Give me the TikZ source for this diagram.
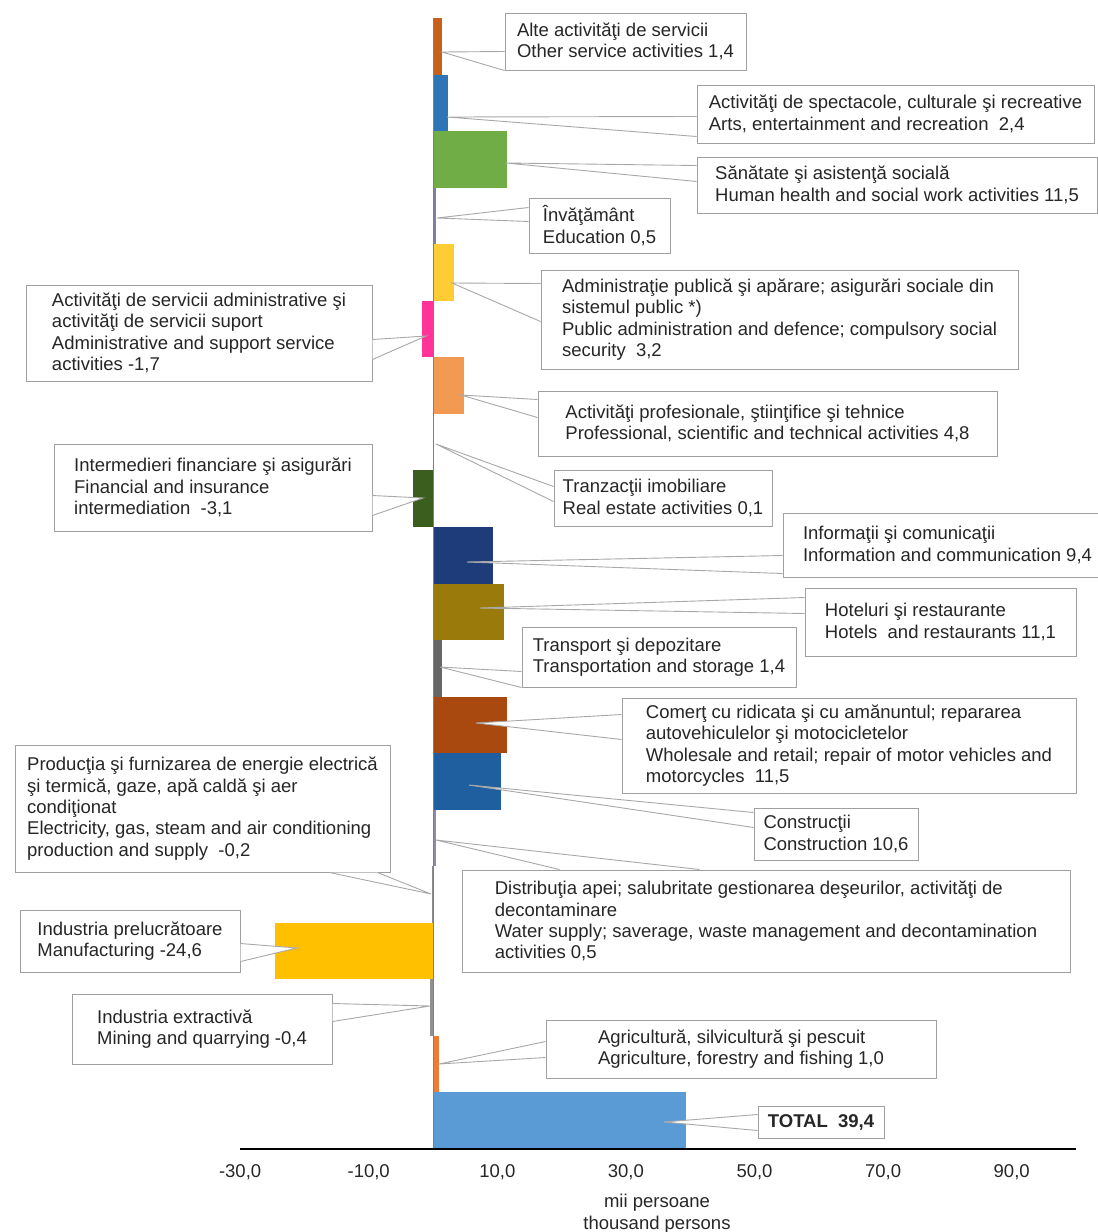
\documentclass[tikz,border=0pt]{standalone}
\usepackage{fontspec}
\setmainfont{Liberation Sans}

\definecolor{boxgray}{HTML}{A0A0A0}
\definecolor{linegray}{HTML}{A8A8A8}
\definecolor{txtgray}{HTML}{262626}
\definecolor{axisgray}{HTML}{808080}
\definecolor{cOther}{HTML}{C8601A}
\definecolor{cArts}{HTML}{2E75B6}
\definecolor{cHealth}{HTML}{70AD47}
\definecolor{cEdu}{HTML}{7F7F9F}
\definecolor{cPubAdm}{HTML}{FFCC33}
\definecolor{cAdmSup}{HTML}{FF3399}
\definecolor{cProf}{HTML}{F39A52}
\definecolor{cReal}{HTML}{909090}
\definecolor{cFin}{HTML}{3B5E1F}
\definecolor{cInfo}{HTML}{1F3C7A}
\definecolor{cHotel}{HTML}{9A7A0A}
\definecolor{cTransp}{HTML}{666666}
\definecolor{cComert}{HTML}{A9480F}
\definecolor{cConstr}{HTML}{1F5FA0}
\definecolor{cWater}{HTML}{8C8CA8}
\definecolor{cEnergy}{HTML}{8C8C8C}
\definecolor{cManuf}{HTML}{FFC000}
\definecolor{cMining}{HTML}{909090}
\definecolor{cAgri}{HTML}{ED7D31}
\definecolor{cTotal}{HTML}{5B9BD5}

\begin{document}
\begin{tikzpicture}[x=1pt, y=-1pt,
	lbl/.style={draw=boxgray, line width=1pt, fill=white, align=left, inner sep=0pt,
		text=txtgray, font=\fontsize{18.5}{21.3}\selectfont},
	wedge/.style={draw=linegray, line width=0.9pt, fill=white},
	tick/.style={text=txtgray, font=\fontsize{18.5}{22}\selectfont}]
	
	\useasboundingbox (0,0) rectangle (1098,1232);
	
	% Balken (Werte in mii persoane)
	\begin{scope}[shift={(433,18)}, x=6.43pt, y=-56.55pt]
		\fill[cOther]  (0,0)  rectangle (1.4,1);
		\fill[cArts]   (0,1)  rectangle (2.4,2);
		\fill[cHealth] (0,2)  rectangle (11.5,3);
		\fill[cEdu]    (0,3)  rectangle (0.5,4);
		\fill[cPubAdm] (0,4)  rectangle (3.2,5);
		\fill[cAdmSup] (0,5)  rectangle (-1.7,6);
		\fill[cProf]   (0,6)  rectangle (4.8,7);
		\fill[cReal]   (0,7)  rectangle (0.1,8);
		\fill[cFin]    (0,8)  rectangle (-3.1,9);
		\fill[cInfo]   (0,9)  rectangle (9.4,10);
		\fill[cHotel]  (0,10) rectangle (11.1,11);
		\fill[cTransp] (0,11) rectangle (1.4,12);
		\fill[cComert] (0,12) rectangle (11.5,13);
		\fill[cConstr] (0,13) rectangle (10.6,14);
		\fill[cWater]  (0,14) rectangle (0.5,15);
		\fill[cEnergy] (0,15) rectangle (-0.2,16);
		\fill[cManuf]  (0,16) rectangle (-24.6,17);
		\fill[cMining] (0,17) rectangle (-0.4,18);
		\fill[cAgri]   (0,18) rectangle (1.0,19);
		\fill[cTotal]  (0,19) rectangle (39.4,20);
	\end{scope}
	
	% Achsen
	\draw[axisgray, line width=0.8pt] (433,18) -- (433,1149);
	\draw[line width=2.4pt] (240,1149) -- (1076,1149);
	\foreach \v in {-30,-10,...,90}
		\node[tick] (tick\v) at ({433+6.43*\v},1172) {\v,0};
	\node[tick, align=center] (unit) at (657,1214) {mii persoane\\thousand persons};
	
	% Spitzen der Beschriftungen
	\coordinate (a-alte)   at (442,52);
	\coordinate (a-arts)   at (447,117);
	\coordinate (a-health) at (506,163);
	\coordinate (a-edu)    at (437,218);
	\coordinate (a-pubadm) at (452,283);
	\coordinate (a-admsup) at (426,336);
	\coordinate (a-prof)   at (461,395);
	\coordinate (a-real)   at (436,444);
	\coordinate (a-fin)    at (423,498);
	\coordinate (a-info)   at (467,562);
	\coordinate (a-hotel)  at (480,608);
	\coordinate (a-transp) at (440,667);
	\coordinate (a-comert) at (476,723);
	\coordinate (a-constr) at (469,785);
	\coordinate (a-water)  at (436,840);
	\coordinate (a-energy) at (431,894);
	\coordinate (a-manuf)  at (297,948);
	\coordinate (a-mining) at (430,1006);
	\coordinate (a-agri)   at (439,1064);
	\coordinate (a-total)  at (664,1122);
	
	% Beschriftungen
	\node[lbl, minimum width=241pt, minimum height=57pt] (alte) at (625.5,41.5)
		{Alte activităţi de servicii\\Other service activities 1,4};
	\node[lbl, minimum width=397pt, minimum height=58pt] (arts) at (895.5,114)
		{Activităţi de spectacole, culturale şi recreative\\Arts, entertainment and recreation\ \ 2,4};
	\node[lbl, minimum width=400pt, minimum height=56pt] (health) at (897,185)
		{Sănătate şi asistenţă socială\\Human health and social work activities 11,5};
	\node[lbl, minimum width=141pt, minimum height=55pt] (edu) at (599.5,225.5)
		{Învăţământ\\Education 0,5};
	\node[lbl, minimum width=477pt, minimum height=99pt] (pubadm) at (779.5,319.5)
		{Administraţie publică şi apărare; asigurări sociale din\\sistemul public *)\\Public administration and defence; compulsory social\\security\ \ 3,2};
	\node[lbl, minimum width=346pt, minimum height=96pt] (admsup) at (199,333)
		{Activităţi de servicii administrative şi\\activităţi de servicii suport\\Administrative and support service\\activities -1,7};
	\node[lbl, minimum width=459pt, minimum height=65pt] (prof) at (767.5,423.5)
		{Activităţi profesionale, ştiinţifice şi tehnice\\Professional, scientific and technical activities 4,8};
	\node[lbl, minimum width=218pt, minimum height=56pt] (real) at (663,498)
		{Tranzacţii imobiliare\\Real estate activities 0,1};
	\node[lbl, minimum width=318pt, minimum height=87pt] (fin) at (213,487.5)
		{Intermedieri financiare şi asigurări\\Financial and insurance\\intermediation\ \ -3,1};
	\node[lbl, minimum width=329pt, minimum height=64pt] (info) at (947.5,545)
		{Informaţii şi comunicaţii\\Information and communication 9,4};
	\node[lbl, minimum width=271pt, minimum height=68pt] (hotel) at (940.5,622)
		{Hoteluri şi restaurante\\Hotels\ \ and restaurants 11,1};
	\node[lbl, minimum width=274pt, minimum height=60pt] (transp) at (659,657)
		{Transport şi depozitare\\Transportation and storage 1,4};
	\node[lbl, minimum width=454pt, minimum height=95pt] (comert) at (849,745.5)
		{Comerţ cu ridicata şi cu amănuntul; repararea\\autovehiculelor şi motocicletelor\\Wholesale and retail; repair of motor vehicles and\\motorcycles\ \ 11,5};
	\node[lbl, minimum width=164pt, minimum height=52pt] (constr) at (836,834)
		{Construcţii\\Construction 10,6};
	\node[lbl, minimum width=608pt, minimum height=102pt] (water) at (766,921)
		{Distribuţia apei; salubritate gestionarea deşeurilor, activităţi de\\decontaminare\\Water supply; saverage, waste management and decontamination\\activities 0,5};
	\node[lbl, minimum width=375pt, minimum height=127pt] (energy) at (202.5,808.5)
		{Producţia şi furnizarea de energie electrică\\şi termică, gaze, apă caldă şi aer\\condiţionat\\Electricity, gas, steam and air conditioning\\production and supply\ \ -0,2};
	\node[lbl, minimum width=220pt, minimum height=62pt] (manuf) at (130,941)
		{Industria prelucrătoare\\Manufacturing -24,6};
	\node[lbl, minimum width=260pt, minimum height=70pt] (mining) at (202,1029)
		{Industria extractivă\\Mining and quarrying -0,4};
	\node[lbl, minimum width=390pt, minimum height=58pt] (agri) at (741,1049)
		{Agricultură, silvicultură şi pescuit\\Agriculture, forestry and fishing 1,0};
	\node[lbl, minimum width=126pt, minimum height=32pt, font=\fontsize{18.5}{21.3}\selectfont\bfseries] (total) at (821,1122)
		{TOTAL\ \ 39,4};
	
	% Hinweislinien
	\filldraw[wedge] ([yshift=-39pt]alte.north west) -- (a-alte) -- (alte.south west);
	\filldraw[wedge] ([yshift=-32pt]arts.north west) -- (a-arts) -- ([yshift=-52pt]arts.north west);
	\filldraw[wedge] ([yshift=-9pt]health.north west) -- (a-health) -- ([yshift=-25pt]health.north west);
	\filldraw[wedge] ([yshift=-10pt]edu.north west) -- (a-edu) -- ([yshift=-24pt]edu.north west);
	\filldraw[wedge] ([yshift=-14pt]pubadm.north west) -- (a-pubadm) -- ([yshift=-52pt]pubadm.north west);
	\filldraw[wedge] ([yshift=-55pt]admsup.north east) -- (a-admsup) -- ([yshift=-75pt]admsup.north east);
	\filldraw[wedge] ([yshift=-9pt]prof.north west) -- (a-prof) -- ([yshift=-27pt]prof.north west);
	\filldraw[wedge] ([yshift=-17pt]real.north west) -- (a-real) -- ([yshift=-32pt]real.north west);
	\filldraw[wedge] ([yshift=-52pt]fin.north east) -- (a-fin) -- ([yshift=-72pt]fin.north east);
	\filldraw[wedge] ([yshift=-43pt]info.north west) -- (a-info) -- ([yshift=-61pt]info.north west);
	\filldraw[wedge] ([yshift=-10pt]hotel.north west) -- (a-hotel) -- ([yshift=-26pt]hotel.north west);
	\filldraw[wedge] ([yshift=-45pt]transp.north west) -- (a-transp) -- (transp.south west);
	\filldraw[wedge] ([yshift=-17pt]comert.north west) -- (a-comert) -- ([yshift=-42pt]comert.north west);
	\filldraw[wedge] ([yshift=-5pt]constr.north west) -- (a-constr) -- ([yshift=-20pt]constr.north west);
	\filldraw[wedge] ([xshift=98pt]water.north west) -- (a-water) -- ([xshift=238pt]water.north west);
	\filldraw[wedge] ([xshift=315pt]energy.south west) -- (a-energy) -- ([xshift=363pt]energy.south west);
	\filldraw[wedge] ([yshift=-34pt]manuf.north east) -- (a-manuf) -- ([yshift=-52pt]manuf.north east);
	\filldraw[wedge] ([yshift=-10pt]mining.north east) -- (a-mining) -- ([yshift=-28pt]mining.north east);
	\filldraw[wedge] ([yshift=-22pt]agri.north west) -- (a-agri) -- ([yshift=-38pt]agri.north west);
	\filldraw[wedge] ([yshift=-9pt]total.north west) -- (a-total) -- ([yshift=-25pt]total.north west);
	
\end{tikzpicture}
\end{document}
